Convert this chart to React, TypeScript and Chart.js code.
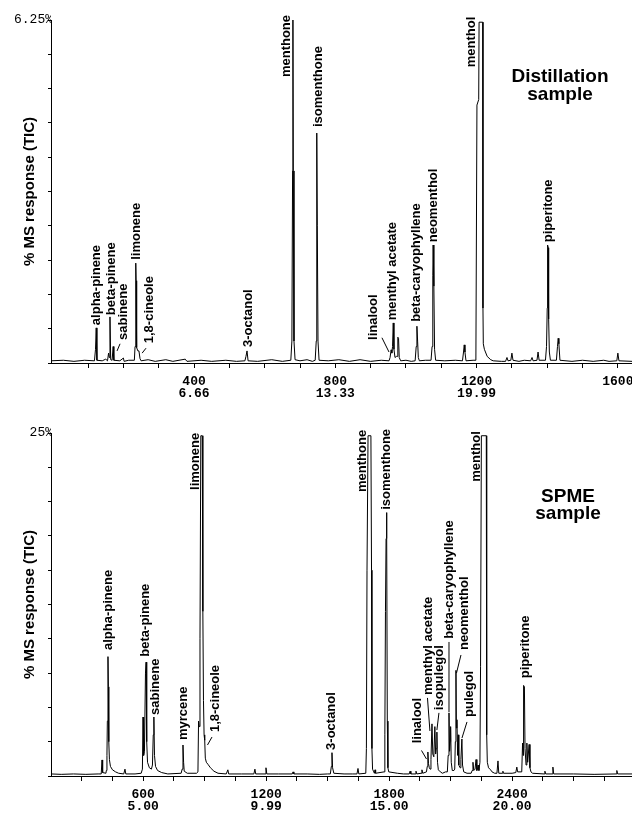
import React, { useEffect, useRef } from "react";
import { Chart, registerables } from "chart.js";

Chart.register(...registerables);

// ---------- Distillation sample (top) ----------
// trace points: [scan number, % MS response]
const TOP_TRACE: [number, number][] = [
  [-5, 0.04], [30, 0.05], [60, 0.03], [90, 0.05], [118, 0.04],
  [121, 0.25], [123, 0.64], [125, 0.05], [140, 0.04], [150, 0.07], [155, 0.04],
  [158, 0.18], [160, 0.1], [162, 0.84], [164, 0.06],
  [168, 0.05], [171, 0.3], [173, 0.05],
  [190, 0.04], [200, 0.09], [202, 0.03], [215, 0.05],
  [231, 0.05], [233, 0.3], [235, 1.82], [236, 1.5], [237, 0.5], [238, 0.28], [241, 0.22], [244, 0.22], [247, 0.08], [250, 0.04],
  [270, 0.06], [290, 0.03], [320, 0.06], [340, 0.03], [375, 0.07], [380, 0.03], [420, 0.05], [450, 0.03], [490, 0.05], [520, 0.03],
  [544, 0.04], [547, 0.12], [550, 0.22], [553, 0.04],
  [580, 0.03], [620, 0.06], [650, 0.03],
  [674, 0.05], [677, 0.4], [679, 3.5], [680, 6.25], [681, 3.5], [683, 0.4], [686, 0.06],
  [700, 0.04], [720, 0.06], [735, 0.03],
  [743, 0.05], [746, 0.4], [747, 2.5], [748, 4.19], [749, 2.5], [751, 0.4], [754, 0.05],
  [780, 0.04], [810, 0.06], [840, 0.03], [870, 0.06], [900, 0.03], [930, 0.05],
  [952, 0.04], [955, 0.1], [958, 0.24], [960, 0.18], [962, 0.3], [964, 0.73], [966, 0.25], [969, 0.1], [973, 0.12], [975, 0.12], [977, 0.47], [979, 0.45], [981, 0.1], [985, 0.04],
  [1000, 0.05], [1015, 0.03],
  [1026, 0.04], [1029, 0.3], [1031, 0.67], [1033, 0.4], [1035, 0.1], [1038, 0.04],
  [1055, 0.05],
  [1071, 0.05], [1074, 0.3], [1076, 1.6], [1077, 2.15], [1079, 1.4], [1081, 0.25], [1084, 0.05],
  [1110, 0.04], [1140, 0.05],
  [1160, 0.04], [1163, 0.2], [1165, 0.33], [1167, 0.2], [1170, 0.04],
  [1190, 0.05],
  [1198, 0.05], [1201, 4.7], [1206, 4.8], [1207, 6.21], [1217.5, 6.21], [1218, 1.0], [1219, 0.35], [1222, 0.25], [1230, 0.12], [1240, 0.06], [1247, 0.04],
  [1270, 0.03], [1282, 0.03], [1286, 0.1], [1289, 0.04], [1297, 0.05], [1300, 0.18], [1303, 0.05],
  [1320, 0.03], [1335, 0.05],
  [1353, 0.04], [1357, 0.1], [1360, 0.04], [1371, 0.05], [1374, 0.2], [1377, 0.05],
  [1395, 0.05], [1398, 0.3], [1400, 1.0], [1401, 2.15], [1403, 2.1], [1404, 0.8], [1406, 0.2], [1409, 0.05],
  [1426, 0.05], [1429, 0.3], [1431, 0.45], [1433, 0.35], [1436, 0.05],
  [1470, 0.03], [1500, 0.05], [1530, 0.03], [1560, 0.05], [1575, 0.03],
  [1597, 0.04], [1600, 0.18], [1603, 0.04], [1640, 0.03],
];

// peak labels: [name, scan, response at label start]
const TOP_LABELS: [string, number, number][] = [
  ["alpha-pinene", 122.7, 0.69],
  ["beta-pinene", 165, 0.87],
  ["sabinene", 200, 0.42],
  ["limonene", 237, 1.88],
  ["1,8-cineole", 272.6, 0.36],
  ["3-octanol", 554, 0.29],
  ["menthone", 662, 5.21],
  ["isomenthone", 751, 4.3],
  ["linalool", 907, 0.42],
  ["menthyl acetate", 962, 0.78],
  ["beta-caryophyllene", 1030, 0.75],
  ["neomenthol", 1077, 2.2],
  ["menthol", 1184, 5.39],
  ["piperitone", 1402, 2.2],
];
// leader lines: [scan1, resp1, scan2, resp2]
const TOP_LEADERS: [number, number, number, number][] = [
  [190.5, 0.35, 182, 0.22],
  [264, 0.27, 253, 0.18],
  [932, 0.46, 952, 0.2],
];
const TOP_X_TICKS = [100, 200, 300, 400, 500, 600, 700, 800, 900, 1000, 1100, 1200, 1300, 1400, 1500, 1600];
const TOP_X_LABELED = [400, 800, 1200, 1600];
const TOP_X_LABELS: string[][] = [["400", "6.66"], ["800", "13.33"], ["1200", "19.99"], ["1600"]];
const TOP_Y_MAX = 6.25;
const TOP_Y_LABEL = "6.25%";
const TOP_TITLE = ["Distillation", "sample"];

// ---------- SPME sample (bottom) ----------
const BOTTOM_TRACE: [number, number][] = [
  [150, 0.15], [200, 0.12], [260, 0.15], [320, 0.12], [380, 0.15],
  [395, 0.15], [399, 1.17], [402, 0.25], [418, 0.2],
  [420, 0.4], [423, 1.5], [425, 4.0], [428, 8.7], [430, 6.5], [432, 2.5], [435, 1.2], [440, 0.7], [450, 0.45], [465, 0.3], [480, 0.2],
  [505, 0.15], [511, 0.5], [515, 0.15], [560, 0.15],
  [590, 0.2], [596, 0.5], [599, 4.3], [602, 1.5], [606, 1.8], [611, 7.5], [614, 8.3], [617, 2.5], [621, 1.0], [630, 0.6], [640, 0.5], [645, 0.8], [649, 3.0], [652, 4.3], [655, 1.5], [660, 0.7], [670, 0.4], [690, 0.25], [720, 0.15],
  [785, 0.2], [790, 0.5], [794, 2.26], [797, 1.0], [800, 0.35], [815, 0.2],
  [860, 0.2], [867, 0.3], [870, 4.0], [873, 3.6], [877, 10], [881, 24.8], [888, 24.8], [891, 12], [894, 5.5], [897, 3.0], [900, 2.6], [903, 1.3], [908, 1.0], [916, 0.85], [928, 0.6], [945, 0.35], [965, 0.2],
  [1005, 0.15], [1013, 0.45], [1017, 0.15], [1080, 0.15], [1140, 0.15], [1145, 0.5], [1149, 0.15], [1195, 0.15], [1199, 0.6], [1203, 0.15], [1260, 0.15], [1327, 0.15], [1331, 0.3], [1335, 0.15], [1400, 0.15], [1460, 0.12], [1500, 0.15],
  [1513, 0.15], [1518, 0.7], [1521, 1.7], [1524, 0.6], [1530, 0.2], [1580, 0.15], [1620, 0.15],
  [1643, 0.15], [1648, 0.55], [1652, 0.15],
  [1686, 0.2], [1689, 2], [1692, 15], [1697, 24.8], [1711, 24.8], [1714, 15], [1716, 2], [1719, 0.5], [1725, 0.3],
  [1728, 0.2], [1731, 0.45], [1734, 0.2],
  [1775, 0.3], [1779, 3], [1782, 12], [1785, 17.3], [1787, 19.2], [1789, 17.3], [1791, 4], [1794, 0.6], [1798, 0.3],
  [1840, 0.2], [1870, 0.15], [1898, 0.15], [1902, 0.35], [1906, 0.15], [1927, 0.15], [1931, 0.35], [1935, 0.15], [1956, 0.2], [1960, 0.45], [1964, 0.2],
  [1982, 0.3], [1986, 0.7], [1989, 1.75], [1992, 0.9], [1996, 0.6], [2000, 0.5], [2004, 1.2], [2009, 3.8], [2013, 1.6], [2018, 1.4], [2023, 3.6], [2027, 1.6], [2030, 2.0], [2033, 3.2], [2036, 1.0], [2040, 0.45], [2050, 0.3], [2060, 0.2], [2075, 0.3],
  [2084, 0.3], [2088, 1.5], [2092, 4.6], [2095, 1.8], [2098, 2.5], [2100, 3.6], [2103, 1.0], [2108, 0.4], [2116, 0.4],
  [2120, 0.5], [2123, 2.5], [2126, 7.7], [2128, 3.5], [2131, 4.1], [2134, 1.5], [2137, 3.0], [2140, 0.8], [2146, 0.6], [2150, 1.2], [2155, 2.7], [2158, 0.8], [2164, 0.3], [2180, 0.2],
  [2200, 0.2], [2205, 0.4], [2209, 1.0], [2213, 0.4], [2219, 0.5], [2224, 1.2], [2228, 0.4], [2231, 0.5], [2234, 0.8], [2238, 0.4],
  [2243, 1.0], [2246, 8], [2250, 24.8], [2274, 24.8], [2276, 3], [2279, 1.0], [2285, 0.6], [2295, 0.45], [2302, 0.3], [2315, 0.2],
  [2326, 0.2], [2331, 1.1], [2335, 0.2], [2352, 0.2], [2355, 0.35], [2358, 0.2], [2400, 0.2], [2418, 0.25], [2423, 0.65], [2427, 0.3],
  [2447, 0.3], [2451, 2.4], [2454, 1.5], [2456, 6.6], [2460, 6.5], [2463, 2.0], [2468, 0.8], [2472, 2.4], [2476, 1.0], [2483, 2.3], [2487, 0.6], [2492, 0.3], [2500, 0.2],
  [2556, 0.15], [2560, 0.35], [2564, 0.15], [2595, 0.15], [2599, 0.65], [2603, 0.15], [2700, 0.15], [2800, 0.12], [2907, 0.15], [2911, 0.4], [2915, 0.15], [2985, 0.15],
];

const BOTTOM_LABELS: [string, number, number][] = [
  ["alpha-pinene", 428, 9.18],
  ["beta-pinene", 611, 8.7],
  ["sabinene", 657.5, 4.45],
  ["myrcene", 794, 2.62],
  ["limonene", 852.6, 20.85],
  ["1,8-cineole", 950, 3.2],
  ["3-octanol", 1518.6, 1.9],
  ["menthone", 1670, 20.7],
  ["isomenthone", 1787, 19.4],
  ["linalool", 1938, 2.38],
  ["menthyl acetate", 1989.5, 5.9],
  ["isopulegol", 2043, 4.8],
  ["beta-caryophyllene", 2092, 10.0],
  ["neomenthol", 2165, 9.18],
  ["pulegol", 2189.5, 4.3],
  ["menthol", 2223.7, 21.45],
  ["piperitone", 2462.7, 7.12],
];
const BOTTOM_LEADERS: [number, number, number, number][] = [
  [935.6, 2.84, 913.6, 2.26],
  [1957.8, 1.86, 1982.2, 1.24],
  [1987, 5.69, 1999, 3.28],
  [2043, 4.6, 2033, 3.35],
  [2092, 9.77, 2092, 4.66],
  [2150.5, 8.82, 2128.5, 7.5],
  [2179.8, 3.94, 2155.4, 2.77],
];
const BOTTOM_X_TICKS = [300, 450, 600, 750, 900, 1050, 1200, 1350, 1500, 1650, 1800, 1950, 2100, 2250, 2400, 2550, 2700, 2850];
const BOTTOM_X_LABELED = [600, 1200, 1800, 2400];
const BOTTOM_X_LABELS: string[][] = [["600", "5.00"], ["1200", "9.99"], ["1800", "15.00"], ["2400", "20.00"]];
const BOTTOM_Y_MAX = 25;
const BOTTOM_Y_LABEL = "25%";
const BOTTOM_TITLE = ["SPME", "sample"];

const Y_TITLE = "% MS response (TIC)";
const SANS = '"Liberation Sans", Arial, Helvetica, sans-serif';
const MONO = '"Liberation Mono", "DejaVu Sans Mono", monospace';

const peakLabelPlugin = {
  id: "peakLabels",
  afterDatasetsDraw(chart: any, _args: any, opts: any) {
    const { ctx } = chart;
    const xs = chart.scales.x;
    const ys = chart.scales.y;
    ctx.save();
    ctx.fillStyle = "#000";
    ctx.strokeStyle = "#000";
    ctx.lineWidth = 1;
    ctx.font = `bold 13px ${SANS}`;
    ctx.textAlign = "left";
    ctx.textBaseline = "middle";
    for (const [text, sx, sv] of opts.labels) {
      const px = xs.getPixelForValue(sx);
      const py = ys.getPixelForValue(sv);
      ctx.save();
      ctx.translate(px, py);
      ctx.rotate(-Math.PI / 2);
      ctx.fillText(text, 0, 0);
      ctx.restore();
    }
    for (const [x1, y1, x2, y2] of opts.leaders) {
      ctx.beginPath();
      ctx.moveTo(xs.getPixelForValue(x1), ys.getPixelForValue(y1));
      ctx.lineTo(xs.getPixelForValue(x2), ys.getPixelForValue(y2));
      ctx.stroke();
    }
    ctx.font = `bold 19px ${SANS}`;
    ctx.textAlign = "center";
    ctx.textBaseline = "alphabetic";
    opts.title.forEach((line: string, i: number) => {
      ctx.fillText(line, opts.titleX, opts.titleY + i * opts.titleGap);
    });
    ctx.restore();
  },
};

type Spec = {
  trace: [number, number][];
  labels: [string, number, number][];
  leaders: [number, number, number, number][];
  xMin: number;
  xMax: number;
  xTicks: number[];
  xLabeled: number[];
  xLabels: string[][];
  yMax: number;
  yLabel: string;
  padTop: number;
  xAxisHeight: number;
  title: string[];
  titleX: number;
  titleY: number;
  titleGap: number;
};

function makeConfig(s: Spec): any {
  const yTicks: number[] = [];
  for (let i = 0; i <= 10; i++) yTicks.push((s.yMax * i) / 10);
  return {
    type: "line",
    data: {
      datasets: [
        {
          data: s.trace.map(([x, y]) => ({ x, y })),
          borderColor: "#000",
          borderWidth: 1,
          pointRadius: 0,
          tension: 0,
          fill: false,
        },
      ],
    },
    options: {
      animation: false,
      responsive: false,
      devicePixelRatio: 1,
      layout: { padding: { top: s.padTop, left: 0, right: 0, bottom: 0 } },
      plugins: {
        legend: { display: false },
        tooltip: { enabled: false },
        peakLabels: {
          labels: s.labels,
          leaders: s.leaders,
          title: s.title,
          titleX: s.titleX,
          titleY: s.titleY,
          titleGap: s.titleGap,
        },
      },
      scales: {
        x: {
          type: "linear",
          min: s.xMin,
          max: s.xMax,
          afterBuildTicks: (sc: any) => {
            sc.ticks = s.xTicks.map((v) => ({ value: v }));
          },
          afterFit: (sc: any) => {
            sc.height = s.xAxisHeight;
            sc.paddingLeft = 0;
            sc.paddingRight = 0;
          },
          ticks: {
            autoSkip: false,
            maxRotation: 0,
            minRotation: 0,
            padding: 7,
            color: "#000",
            font: { family: MONO, size: 13, weight: "bold", lineHeight: 0.96 },
            callback: (v: number) => {
              const i = s.xLabeled.indexOf(v);
              return i >= 0 ? s.xLabels[i] : "";
            },
          },
          grid: { display: true, drawOnChartArea: false, drawTicks: true, tickLength: 5, color: "#000", lineWidth: 1 },
          border: { display: true, color: "#000", width: 1 },
        },
        y: {
          type: "linear",
          min: 0,
          max: s.yMax,
          afterBuildTicks: (sc: any) => {
            sc.ticks = yTicks.map((v) => ({ value: v }));
          },
          afterFit: (sc: any) => {
            sc.width = 51;
            sc.paddingTop = 0;
            sc.paddingBottom = 0;
          },
          ticks: {
            padding: -5,
            color: "#000",
            font: { family: MONO, size: 13 },
            callback: (v: number) => (Math.abs(v - s.yMax) < 1e-6 ? s.yLabel : ""),
          },
          grid: { display: true, drawOnChartArea: false, drawTicks: true, tickLength: 3, color: "#000", lineWidth: 1 },
          border: { display: true, color: "#000", width: 1 },
          title: {
            display: true,
            text: Y_TITLE,
            color: "#000",
            font: { family: SANS, size: 15, weight: "bold" },
            padding: { top: 21, bottom: 0 },
          },
        },
      },
    },
    plugins: [peakLabelPlugin],
  };
}

export default function App() {
  const topRef = useRef<HTMLCanvasElement>(null);
  const botRef = useRef<HTMLCanvasElement>(null);

  useEffect(() => {
    const top = new Chart(
      topRef.current as HTMLCanvasElement,
      makeConfig({
        trace: TOP_TRACE,
        labels: TOP_LABELS,
        leaders: TOP_LEADERS,
        xMin: -5,
        xMax: 1640,
        xTicks: TOP_X_TICKS,
        xLabeled: TOP_X_LABELED,
        xLabels: TOP_X_LABELS,
        yMax: TOP_Y_MAX,
        yLabel: TOP_Y_LABEL,
        padTop: 20,
        xAxisHeight: 43,
        title: TOP_TITLE,
        titleX: 560,
        titleY: 82,
        titleGap: 18,
      })
    );
    const bottom = new Chart(
      botRef.current as HTMLCanvasElement,
      makeConfig({
        trace: BOTTOM_TRACE,
        labels: BOTTOM_LABELS,
        leaders: BOTTOM_LEADERS,
        xMin: 150,
        xMax: 2985,
        xTicks: BOTTOM_X_TICKS,
        xLabeled: BOTTOM_X_LABELS.length ? BOTTOM_X_LABELED : [],
        xLabels: BOTTOM_X_LABELS,
        yMax: BOTTOM_Y_MAX,
        yLabel: BOTTOM_Y_LABEL,
        padTop: 27,
        xAxisHeight: 37,
        title: BOTTOM_TITLE,
        titleX: 568,
        titleY: 96,
        titleGap: 17,
      })
    );
    return () => {
      top.destroy();
      bottom.destroy();
    };
  }, []);

  return (
    <div style={{ position: "absolute", left: 0, top: 0, width: 632, height: 813, background: "#fff" }}>
      <canvas ref={topRef} width={632} height={406} style={{ display: "block", width: 632, height: 406 }} />
      <canvas ref={botRef} width={632} height={407} style={{ display: "block", width: 632, height: 407 }} />
    </div>
  );
}
